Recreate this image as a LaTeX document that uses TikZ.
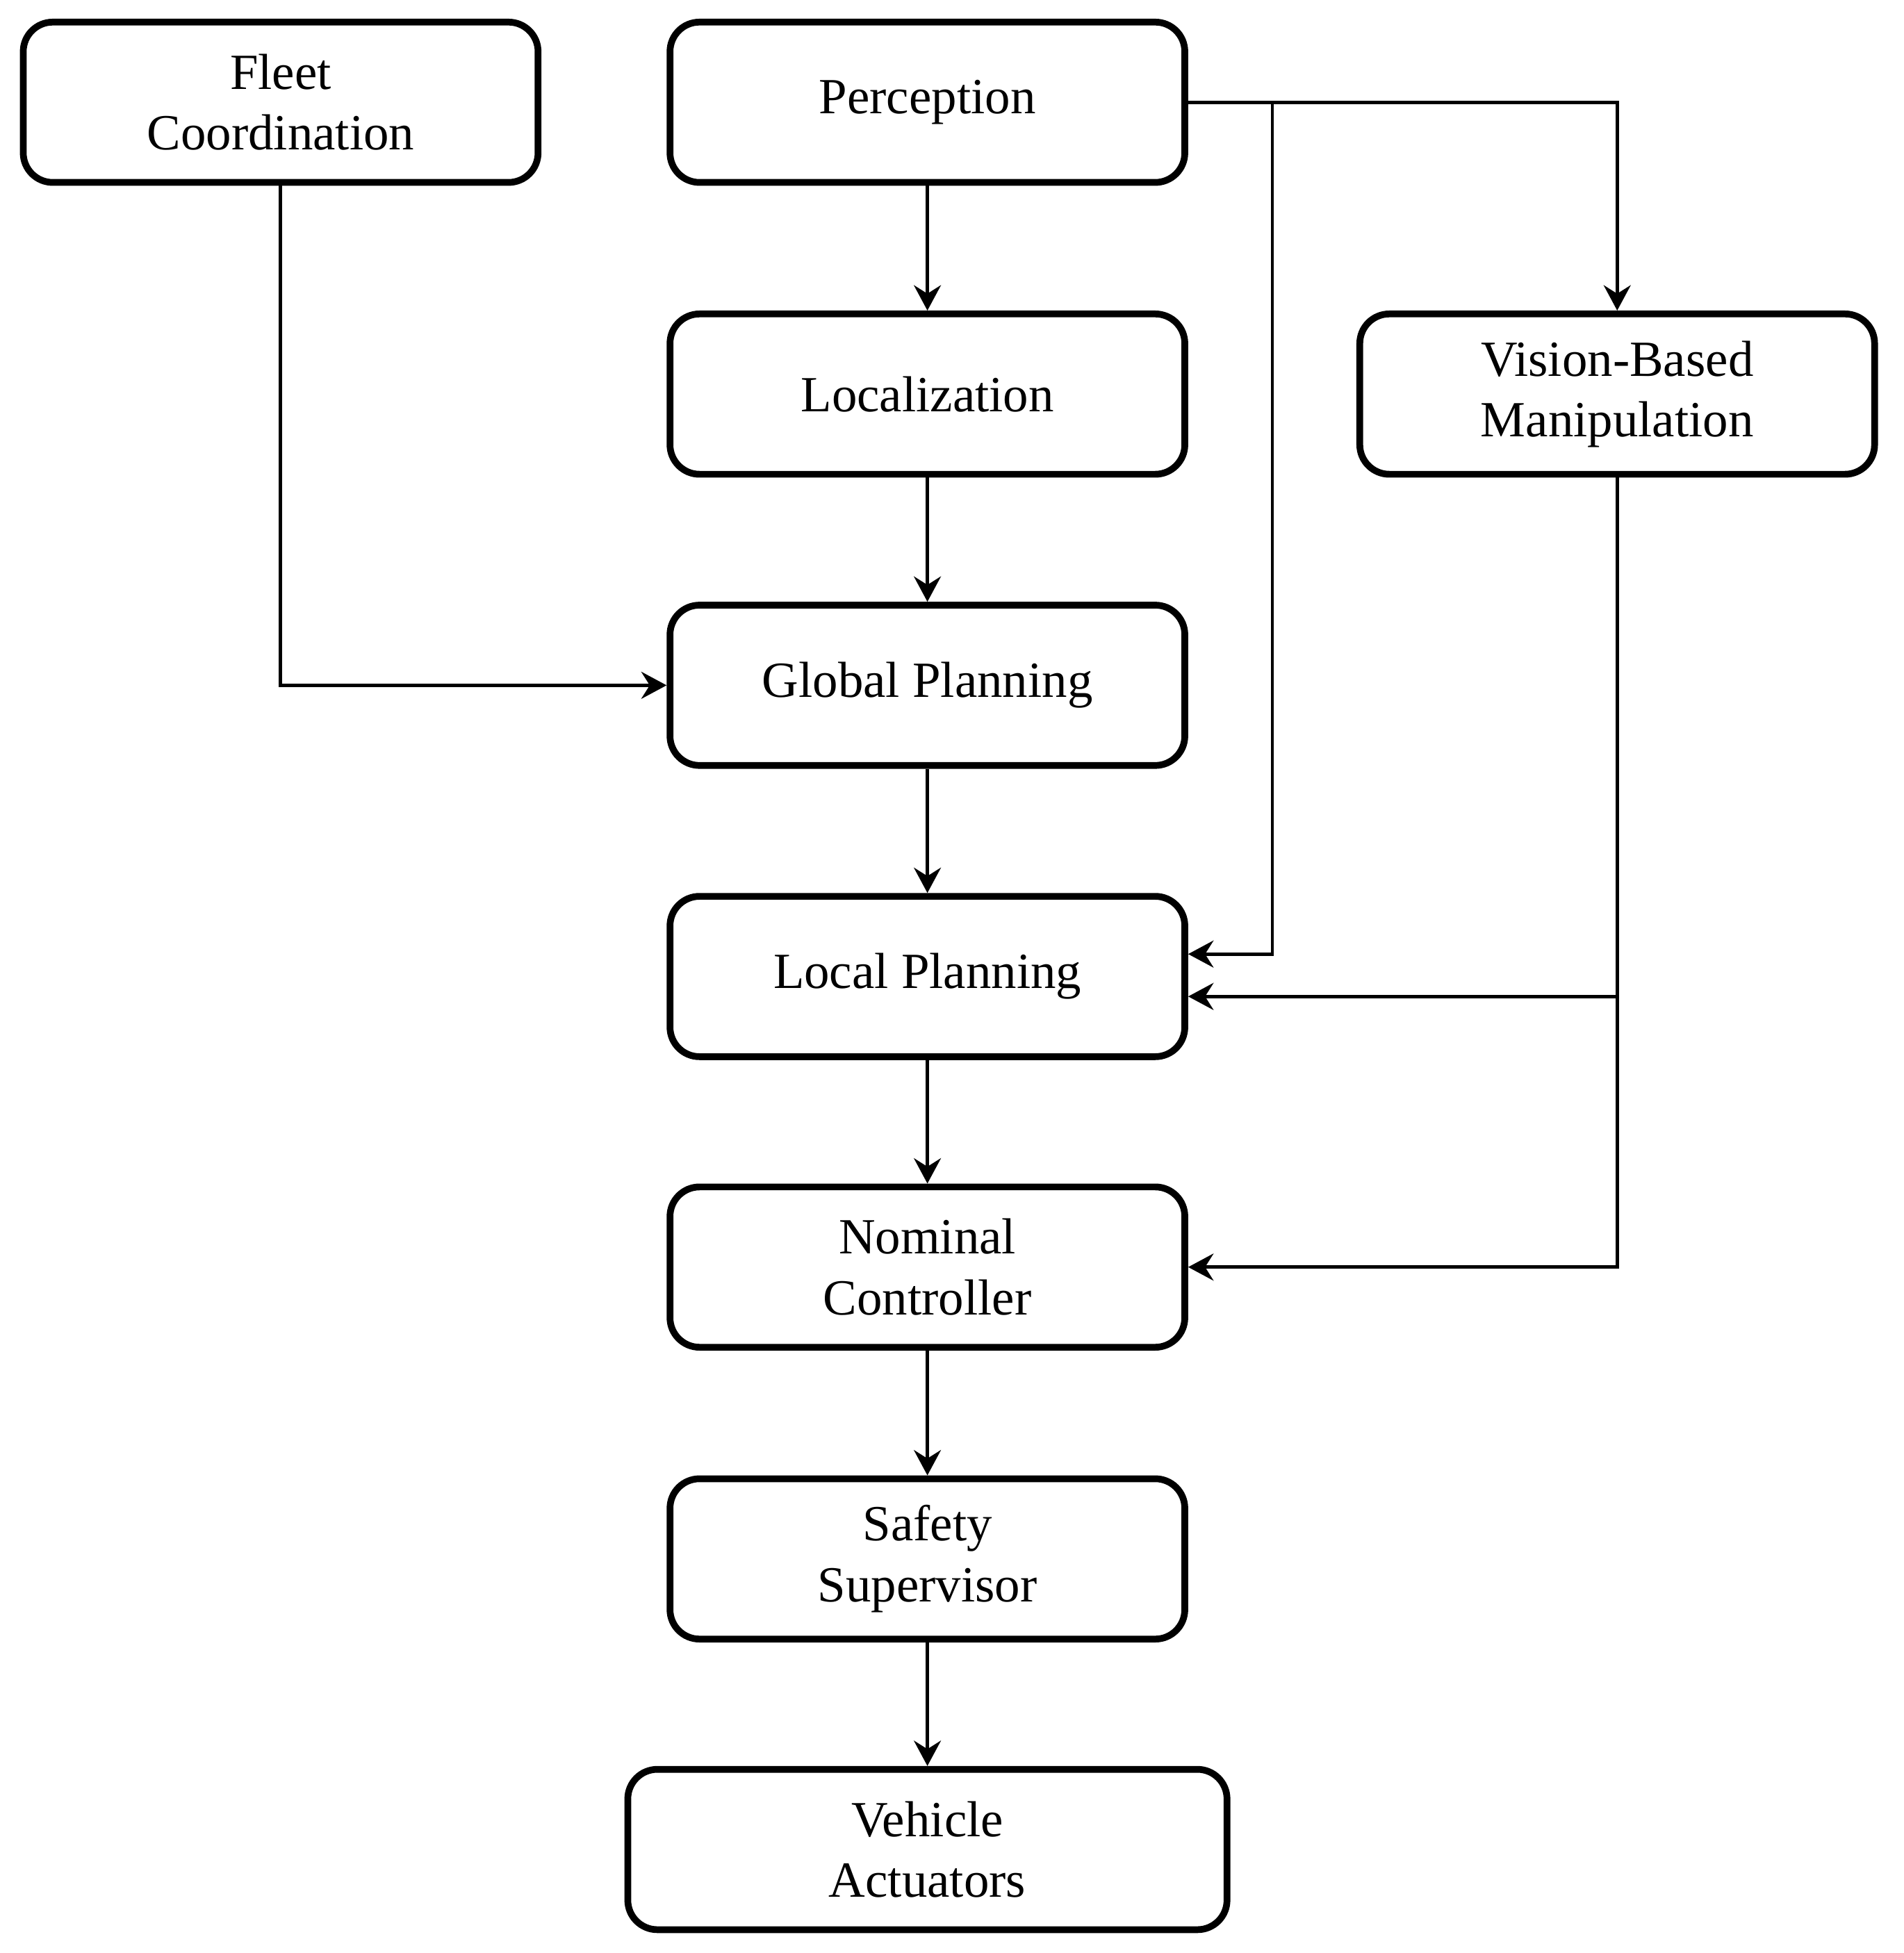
\documentclass[tikz,border=0pt]{standalone}
\usepackage{fontspec}
\setmainfont{Liberation Serif}
\usetikzlibrary{arrows.meta}
\begin{document}
\begin{tikzpicture}[x=0.2956pt,y=-0.2956pt,
  box/.style={draw, line width=1.6pt, rounded corners=7pt, minimum width=122pt, minimum height=38pt, align=center, inner sep=2pt, font=\fontsize{12pt}{14.4pt}\selectfont},
  arr/.style={draw, line width=0.8pt, -{Stealth[length=6pt,width=6.4pt,inset=2pt]}}]
\useasboundingbox (0,0) rectangle (1526,1566);
\node[box] (fc)  at (225,82)     {Fleet\\Coordination};
\node[box] (per) at (743.5,82)   {Perception};
\node[box] (loc) at (743.5,316)  {Localization};
\node[box] (vis) at (1296.5,316) {Vision-Based\\Manipulation};
\node[box] (gp)  at (743.5,549.5) {Global Planning};
\node[box] (lp)  at (743.5,783)  {Local Planning};
\node[box] (nc)  at (743.5,1016) {Nominal\\Controller};
\node[box] (ss)  at (743.5,1250) {Safety\\Supervisor};
\node[box, minimum width=142pt] (va) at (743.5,1483) {Vehicle\\Actuators};
\coordinate (j1) at (1020,82);
\coordinate (j3) at (1020,765);
\coordinate (j2) at (1296.5,799);
\draw[arr] (per) -- (loc);
\draw[arr] (loc) -- (gp);
\draw[arr] (gp) -- (lp);
\draw[arr] (lp) -- (nc);
\draw[arr] (nc) -- (ss);
\draw[arr] (ss) -- (va);
\draw[arr] (fc.south) |- (gp.west);
\draw[arr] (per.east) -| (vis.north);
\draw[arr] (j1) -- (j3) -- (lp.east |- j3);
\draw[arr] (vis.south) |- (nc.east);
\draw[arr] (j2) -- (lp.east |- j2);
\end{tikzpicture}
\end{document}
